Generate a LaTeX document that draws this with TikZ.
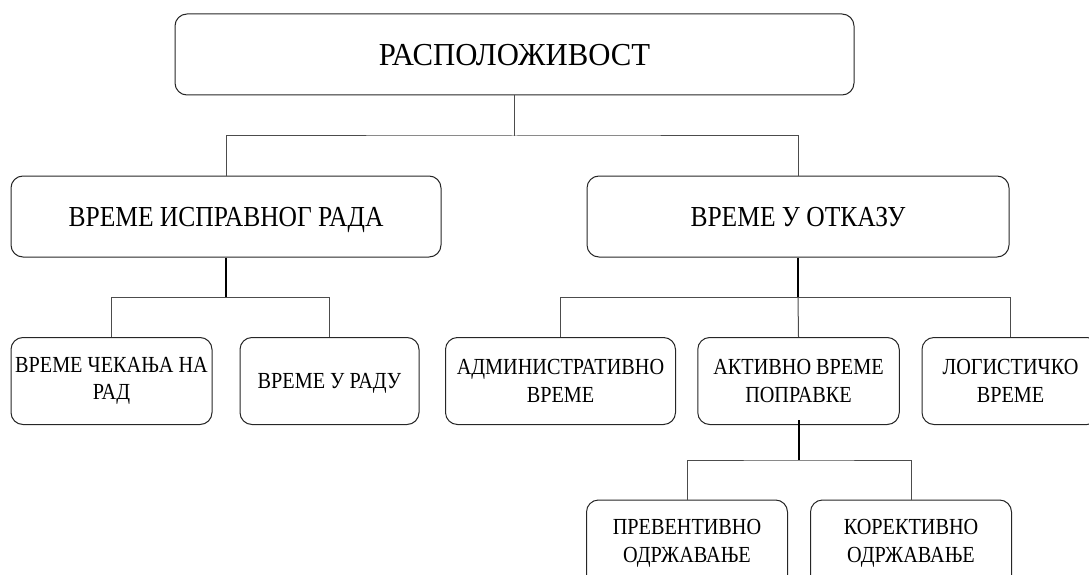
\documentclass[tikz,border=0pt]{standalone}
\usepackage{fontspec}
\setmainfont{Liberation Serif}
\newfontfamily\uzi[FakeStretch=0.88]{Liberation Serif}
\newfontfamily\uzivrh[FakeStretch=0.96]{Liberation Serif}
\begin{document}
\begin{tikzpicture}[x=1pt,y=-1pt,
    box/.style={draw=black!85,line width=1pt,rounded corners=12pt,inner sep=0pt,align=center},
    lvlone/.style={minimum height=81pt,text height=19.2pt,text depth=0pt,font=\uzi\fontsize{29}{34}\selectfont},
    lvltwo/.style={minimum height=87pt,font=\uzi\fontsize{23}{27.7}\selectfont},
    veza/.style={draw=black!70,line width=1pt},
    debela/.style={draw=black,line width=2pt}]
   \useasboundingbox (0,0) rectangle (1089,575);
   \node[box,minimum width=679pt,minimum height=81pt,text height=21.2pt,text depth=0pt,font=\uzivrh\fontsize{32}{38}\selectfont] (top) at (514.5,54.5) {РАСПОЛОЖИВОСТ};
   \node[box,lvlone,minimum width=430pt] (ispravan) at (226,216.5) {ВРЕМЕ ИСПРАВНОГ РАДА};
   \node[box,lvlone,minimum width=422pt] (otkaz) at (798,216.5) {ВРЕМЕ У ОТКАЗУ};
   \foreach \ime/\x/\y/\w/\tekst in {cekanje/111.5/381/201/{ВРЕМЕ ЧЕКАЊА НА\\РАД}, admin/560.5/381/230/{АДМИНИСТРАТИВНО\\ВРЕМЕ}, aktivno/798.5/381/201.5/{АКТИВНО ВРЕМЕ\\ПОПРАВКЕ}, logist/1010.5/381/177/{ЛОГИСТИЧКО\\ВРЕМЕ}, prevent/687/543.5/201/{ПРЕВЕНТИВНО\\ОДРЖАВАЊЕ}, korekt/911/543.5/201/{КОРЕКТИВНО\\ОДРЖАВАЊЕ}}
   {
       \node[box,lvltwo,minimum width=\w pt] (\ime) at (\x,\y) {\tekst};
   }
   \node[box,lvltwo,minimum width=179pt,text height=15.2pt,text depth=0pt] (rad) at (329.5,381) {ВРЕМЕ У РАДУ};
   
   \draw[veza] (top.south) -- ++(0,40.5) coordinate (r0);
   \draw[veza] (ispravan.north) |- (r0) -| (otkaz.north);
   
   \draw[debela] (ispravan.south) -- ++(0,40) coordinate (r1);
   \draw[veza] (cekanje.north) |- (r1) -| (rad.north);
   
   \draw[debela] (otkaz.south) -- ++(0,40) coordinate (r2);
   \draw[veza] (admin.north) |- (r2) -| (logist.north);
   \draw[veza] (r2) -- (aktivno.north);
   
   \draw[debela] ([yshift=5pt]aktivno.south) -- ++(0,40) coordinate (r3);
   \draw[veza] (prevent.north) |- (r3) -| (korekt.north);
\end{tikzpicture}
\end{document}
